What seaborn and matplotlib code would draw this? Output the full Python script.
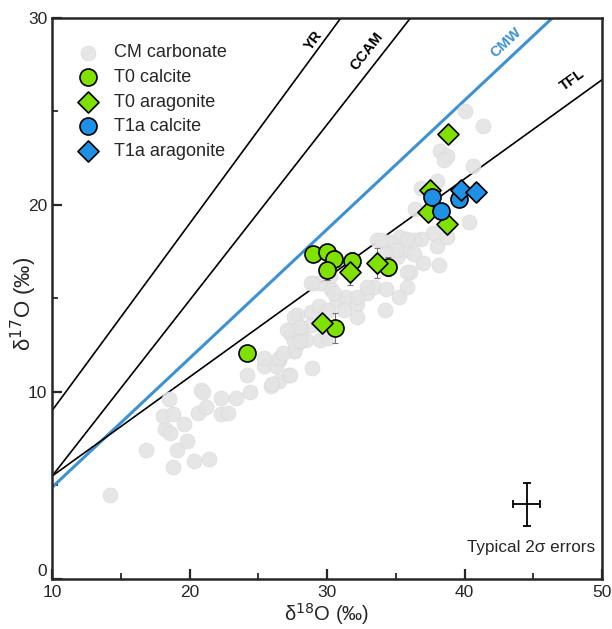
import numpy as np
import matplotlib
matplotlib.use('Agg')
import matplotlib.pyplot as plt
import seaborn as sns
import pandas as pd

#%% data
cm_d18O = [14.2, 16.8, 18.8, 20.3, 21.4, 19.1, 19.8, 18.2, 18.6, 19.6, 18.1, 18.8, 18.5,
           20.6, 21.2, 20.8, 22.3, 22.3, 22.8, 23.4, 24.2, 28.9, 25.4, 26.5, 26.3, 27.6,
           25.9, 26.5, 27.2, 27.9, 28.5, 27.4, 25.4, 26.5, 26.0, 27.3, 27.6, 27.6, 27.4,
           28.0, 28.0, 27.8, 28.8, 29.4, 30.1, 28.8, 29.5, 30.1, 29.0, 30.3, 30.7, 31.4,
           32.2, 32.9, 34.2, 33.4, 32.2, 34.3, 24.4, 21.0, 40.0, 41.3, 38.2, 38.7, 40.6,
           36.8, 38.0, 40.3, 36.4, 37.7, 38.7, 38.0, 36.8, 36.0, 35.3, 35.7, 36.3, 35.1,
           37.0, 38.1, 34.3, 33.6, 36.0, 35.8, 38.5, 36.3, 35.8, 34.6, 33.9, 35.8, 35.0,
           35.2, 32.9, 32.2, 30.5, 31.2, 30.2, 29.5, 28.8, 27.6, 28.0, 27.1, 26.8, 34.3]
cm_d17O = [4.5, 6.9, 6.0, 6.3, 6.4, 6.9, 7.4, 8.0, 7.8, 8.3, 8.7, 8.8, 9.6,
           8.9, 9.2, 10.1, 9.7, 8.8, 8.9, 9.7, 10.9, 11.3, 11.4, 11.7, 11.4, 12.2,
           10.3, 10.6, 10.9, 12.6, 12.8, 13.1, 11.8, 11.8, 10.4, 10.9, 12.2, 12.7, 13.3,
           13.2, 12.7, 14.1, 14.3, 14.6, 14.4, 13.6, 12.8, 12.9, 15.8, 15.5, 14.9, 15.1,
           14.7, 15.3, 14.4, 15.6, 14.0, 15.5, 10.0, 10.0, 25.0, 24.2, 22.9, 22.6, 22.1,
           20.9, 21.3, 19.1, 19.8, 18.5, 18.3, 17.8, 18.2, 18.0, 18.3, 17.6, 17.4, 17.2,
           16.9, 16.8, 18.0, 18.1, 16.4, 15.6, 22.4, 18.1, 18.2, 18.0, 18.1, 16.4, 17.6,
           15.1, 15.6, 15.1, 15.3, 14.4, 16.2, 15.8, 15.8, 14.0, 13.5, 13.3, 12.1, 17.4]

t0c_d18O = [24.2, 29.0, 30.0, 30.5, 30.0, 31.8, 34.4, 30.6]
t0c_d17O = [12.1, 17.4, 17.5, 17.1, 16.5, 17.0, 16.7, 13.4]
t0c_err = [0.4, 0.4, 0.4, 0.5, 0.5, 0.5, 0.5, 0.8]

t0a_d18O = [29.6, 31.7, 33.6, 37.3, 38.7, 37.5, 38.8]
t0a_d17O = [13.7, 16.4, 16.9, 19.6, 19.0, 20.8, 23.8]
t0a_err = [0.4, 0.7, 0.8, 0.4, 0.4, 0.4, 0.4]

t1c_d18O = [37.6, 38.3, 39.6]
t1c_d17O = [20.4, 19.7, 20.3]
t1c_err = [0.4, 0.4, 0.4]

t1a_d18O = [39.7, 40.8]
t1a_d17O = [20.8, 20.7]
t1a_err = [0.5, 0.5]

# reference lines: name, slope, intercept
line_names = ['YR', 'CCAM', 'CMW', 'TFL']
line_slopes = [1.0, 0.94, 0.69, 0.53]
line_icepts = [-1.0, -3.9, -2.0, 0.2]

#%% style
sns.set_style('ticks')
plt.rcParams['font.family'] = ['Liberation Sans', 'DejaVu Sans']

green = '#80e000'
blue = '#1e90e6'
cmw_blue = '#3d92cf'

fig = plt.figure(figsize=(6.12, 6.29), dpi=100)
ax = fig.add_axes([0.085, 0.0795, 0.899, 0.892])

# lines
xx = np.array([10, 50])
for name, m, b in zip(line_names, line_slopes, line_icepts):
    col = cmw_blue if name == 'CMW' else 'black'
    lw = 2.2 if name == 'CMW' else 1.2
    ax.plot(xx, m * xx + b, color=col, lw=lw, zorder=1)

# line labels
lab_pos = {'YR': (29.0, 28.8), 'CCAM': (32.9, 28.2), 'CMW': (43.0, 28.7), 'TFL': (47.8, 26.7)}
for name, m in zip(line_names, line_slopes):
    ang = np.degrees(np.arctan(m * 18.7 / 13.75))
    col = cmw_blue if name == 'CMW' else 'black'
    ax.text(*lab_pos[name], name, rotation=ang, rotation_mode='anchor', ha='center',
            va='center', fontsize=10.5, fontweight='bold', color=col)

# CM carbonate
sns.scatterplot(x=cm_d18O, y=cm_d17O, ax=ax, color='#e4e4e4', edgecolor='#dadada',
                linewidth=0.5, s=115, alpha=0.9, label='CM carbonate', zorder=2)

# error bars behind markers
for xs, ys, es in [(t0c_d18O, t0c_d17O, t0c_err), (t0a_d18O, t0a_d17O, t0a_err),
                   (t1c_d18O, t1c_d17O, t1c_err), (t1a_d18O, t1a_d17O, t1a_err)]:
    ax.errorbar(xs, ys, yerr=es, fmt='none', ecolor='#777777', elinewidth=0.8,
                capsize=2, capthick=0.8, zorder=3)

sns.scatterplot(x=t0c_d18O, y=t0c_d17O, ax=ax, color=green, edgecolor='black',
                linewidth=1.2, s=150, marker='o', label='T0 calcite', zorder=4)
sns.scatterplot(x=t0a_d18O, y=t0a_d17O, ax=ax, color=green, edgecolor='black',
                linewidth=1.2, s=115, marker='D', label='T0 aragonite', zorder=4)
sns.scatterplot(x=t1c_d18O, y=t1c_d17O, ax=ax, color=blue, edgecolor='black',
                linewidth=1.2, s=150, marker='o', label='T1a calcite', zorder=5)
sns.scatterplot(x=t1a_d18O, y=t1a_d17O, ax=ax, color=blue, edgecolor='black',
                linewidth=1.2, s=115, marker='D', label='T1a aragonite', zorder=5)

# typical errors
ax.errorbar([44.5], [4.0], xerr=[0.95], yerr=[1.15], fmt='none', ecolor='black',
            elinewidth=1.3, capsize=3, capthick=1.3)
ax.text(44.8, 1.7, 'Typical 2σ errors', ha='center', va='center', fontsize=12.3)

ax.set_xlim(10, 50)
ax.set_ylim(0, 30)
ax.set_xticks([10, 20, 30, 40, 50])
ax.set_yticks([0, 10, 20, 30])
ax.set_xticks([15, 25, 35, 45], minor=True)
ax.set_yticks([5, 15, 25], minor=True)
ax.tick_params(which='major', direction='in', length=7, width=1.6, labelsize=12.5)
ax.tick_params(axis='x', which='major', pad=4)
ax.tick_params(which='minor', direction='in', length=4, width=1.3)
ax.yaxis.get_major_ticks()[0].label1.set_verticalalignment('bottom')
for sp in ax.spines.values():
    sp.set_linewidth(1.8)
ax.set_xlabel('δ$^{18}$O (‰)', fontsize=14.5)
ax.set_ylabel('δ$^{17}$O (‰)', fontsize=16)
ax.xaxis.set_label_coords(0.5, -0.04)
ax.yaxis.set_label_coords(-0.024, 0.49)

leg = ax.legend(loc='upper left', bbox_to_anchor=(0.0, 0.985), frameon=False, fontsize=13,
                handletextpad=0.45, labelspacing=0.42, borderaxespad=0.6, markerscale=1.0)

fig.savefig('out.png', dpi=100)
